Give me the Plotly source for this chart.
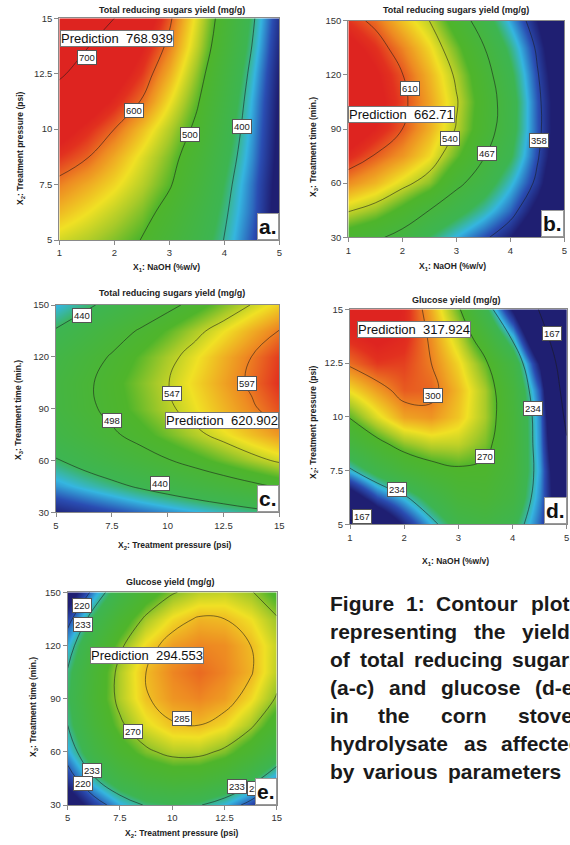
import plotly.graph_objects as go

# ---------------- data ----------------
NAOH = [1, 1.5, 2, 2.5, 3, 3.5, 4, 4.5, 5]                      # X1 (%w/v)
PRESSURE = [5, 6.25, 7.5, 8.75, 10, 11.25, 12.5, 13.75, 15]     # X2 (psi)
TIME = [30, 45, 60, 75, 90, 105, 120, 135, 150]                 # X3 (min.)

# (a) TRS yield, rows = pressure, cols = NaOH
TRS_A = [
    [541, 530, 516, 499, 468, 434, 399, 355, 302],
    [568, 552, 535, 515, 485, 446, 406, 362, 305],
    [592, 575, 556, 532, 504, 462, 414, 365, 308],
    [618, 602, 575, 545, 515, 475, 424, 372, 312],
    [645, 623, 600, 566, 531, 491, 435, 377, 315],
    [675, 651, 626, 598, 553, 505, 446, 382, 318],
    [707, 679, 648, 617, 574, 519, 457, 390, 322],
    [737, 703, 667, 633, 593, 534, 470, 400, 328],
    [767, 738, 700, 655, 606, 544, 479, 408, 335],
]
# (b) TRS yield, rows = time, cols = NaOH
TRS_B = [
    [490, 475, 452, 421, 392, 365, 335, 290, 225],
    [543, 527, 500, 467, 437, 407, 372, 322, 258],
    [592, 575, 550, 525, 477, 445, 400, 350, 278],
    [628, 608, 588, 560, 515, 470, 428, 362, 295],
    [655, 633, 610, 578, 538, 490, 440, 368, 302],
    [665, 644, 617, 583, 543, 494, 442, 367, 302],
    [660, 638, 611, 576, 535, 486, 432, 361, 296],
    [645, 624, 595, 561, 518, 470, 415, 352, 285],
    [622, 603, 570, 540, 493, 445, 390, 335, 268],
]
# (c) TRS yield, rows = time, cols = pressure
TRS_C = [
    [364, 374, 384, 394, 403, 412, 421, 430, 438],
    [406, 419, 431, 444, 456, 468, 479, 490, 501],
    [438, 453, 468, 482, 496, 510, 524, 538, 551],
    [460, 476, 493, 509, 525, 541, 556, 572, 587],
    [471, 489, 507, 524, 542, 559, 576, 593, 610],
    [472, 491, 510, 528, 546, 565, 583, 601, 620],
    [463, 482, 501, 520, 539, 558, 578, 597, 616],
    [443, 462, 482, 501, 520, 540, 559, 579, 598],
    [413, 432, 451, 470, 489, 508, 528, 548, 567],
]
# (d) glucose yield, rows = pressure, cols = NaOH
GLU_D = [
    [160, 190, 212, 230, 246, 250, 243, 222, 192],
    [200, 220, 232, 246, 258, 261, 252, 226, 188],
    [232, 246, 257, 264, 268, 267, 256, 228, 180],
    [254, 266, 276, 281, 281, 274, 258, 226, 170],
    [271, 284, 295, 297, 290, 278, 258, 225, 160],
    [287, 296, 304, 303, 292, 278, 256, 220, 150],
    [302, 308, 307, 300, 288, 272, 250, 208, 140],
    [311, 315, 311, 298, 281, 259, 231, 185, 128],
    [316, 318, 312, 294, 272, 244, 208, 165, 115],
]
# (e) glucose yield, rows = time, cols = pressure
GLU_E = [
    [197, 214, 226, 234, 236, 234, 227, 216, 200],
    [214, 232, 245, 253, 257, 256, 250, 239, 224],
    [226, 245, 259, 268, 273, 273, 268, 258, 244],
    [233, 253, 268, 278, 284, 285, 281, 272, 258],
    [236, 257, 273, 284, 290, 292, 289, 281, 269],
    [234, 256, 273, 285, 292, 295, 292, 286, 274],
    [227, 250, 268, 281, 289, 292, 291, 285, 275],
    [216, 239, 258, 272, 281, 286, 285, 280, 271],
    [199, 224, 244, 259, 269, 274, 275, 271, 262],
]

LEVELS_A = [400, 500, 600, 700]
LEVELS_B = [358, 467, 540, 610]
LEVELS_C = [440, 498, 547, 597]
LEVELS_D = [167, 234, 270, 300]
LEVELS_E = [220, 233, 270, 285]

PREDICTIONS = ["768.939", "662.71", "620.902", "317.924", "294.553"]
PANEL_LETTERS = ["a.", "b.", "c.", "d.", "e."]

TITLE_TRS = "Total reducing sugars yield (mg/g)"
TITLE_GLU = "Glucose yield (mg/g)"
AX_NAOH = "X<sub>1</sub>: NaOH (%w/v)"
AX_PRESS = "X<sub>2</sub>: Treatment pressure (psi)"
AX_TIME = "X<sub>3</sub>: Treatment time (min.)"

NAOH_TICKS = [1, 2, 3, 4, 5]
PRESS_TICKS = [5, 7.5, 10, 12.5, 15]
TIME_TICKS = [30, 60, 90, 120, 150]

CAPTION = [
    ["Figure", "1:", "Contour", "plots"],
    ["representing", "the", "yields"],
    ["of", "total", "reducing", "sugars"],
    ["(a-c)", "and", "glucose", "(d-e)"],
    ["in", "the", "corn", "stover"],
    ["hydrolysate", "as", "affected"],
    ["by", "various", "parameters"],
]

# ---------------- styling / layout ----------------
W, H = 570, 845
FONT = "Liberation Sans, Arial, sans-serif"
CS = [[0.0, '#1f1f72'], [0.1, '#2a4db2'], [0.2, '#35b6e0'], [0.3, '#3db552'],
      [0.58, '#4fb52b'], [0.66, '#a8ca29'], [0.74, '#f0e124'], [0.86, '#ee8b22'],
      [0.96, '#e2311f'], [1.0, '#de2420']]


def px(x, y):
    return x / W, 1 - y / H


panels = [
    dict(x=NAOH, y=PRESSURE, z=TRS_A, zr=(323, 632), lev=LEVELS_A,
         xt=NAOH_TICKS, yt=PRESS_TICKS, box=(59.3, 279.3, 18.3, 240),
         title=TITLE_TRS, tpos=(172, 10), xtitle=AX_NAOH, xtpos=(166, 268),
         ytitle=AX_PRESS, ytpos=(20, 148),
         labels=[(1.51, 13.24), (2.35, 10.86), (3.38, 9.74), (4.32, 10.11)],
         ltxt=["700", "600", "500", "400"],
         pred=(1.01, 14.09, 'left')),
    dict(x=NAOH, y=TIME, z=TRS_B, zr=(335, 635), lev=LEVELS_B,
         xt=NAOH_TICKS, yt=TIME_TICKS, box=(348.3, 564.3, 20.7, 237.3),
         title=TITLE_TRS, tpos=(456, 10), xtitle=AX_NAOH, xtpos=(452, 266),
         ytitle=AX_TIME, ytpos=(313, 147),
         labels=[(2.14, 112.5), (2.88, 84.8), (3.56, 76.5), (4.53, 83.9)],
         ltxt=["610", "540", "467", "358"],
         pred=(1.0, 97.8, 'left')),
    dict(x=PRESSURE, y=TIME, z=TRS_C, zr=(360, 630), lev=LEVELS_C,
         xt=PRESS_TICKS, yt=TIME_TICKS, box=(56, 279.3, 305, 512.3),
         title=TITLE_TRS, tpos=(172, 293), xtitle=AX_PRESS, xtpos=(175, 545),
         ytitle=AX_TIME, ytpos=(18, 410),
         labels=[(6.15, 144.2), (10.18, 98.9), (13.54, 104.7), (7.49, 83.4), (9.66, 46.8)],
         ltxt=["440", "547", "597", "498", "440"],
         pred=(14.97, 83.4, 'right')),
    dict(x=NAOH, y=PRESSURE, z=GLU_D, zr=(210, 313), lev=LEVELS_D,
         xt=NAOH_TICKS, yt=PRESS_TICKS, box=(350, 566.7, 309.3, 524.3),
         title=TITLE_GLU, tpos=(456, 300), xtitle=AX_NAOH, xtpos=(455, 561),
         ytitle=AX_PRESS, ytpos=(313, 422),
         labels=[(2.54, 11.01), (4.72, 13.88), (4.38, 10.4), (3.49, 8.14), (1.86, 6.63), (1.22, 5.35)],
         ltxt=["300", "167", "234", "270", "234", "167"],
         pred=(1.13, 14.06, 'left')),
    dict(x=PRESSURE, y=TIME, z=GLU_E, zr=(208, 305), lev=LEVELS_E,
         xt=PRESS_TICKS, yt=TIME_TICKS, box=(67.7, 276.7, 592.3, 805),
         title=TITLE_GLU, tpos=(170, 582), xtitle=AX_PRESS, xtpos=(182, 833),
         ytitle=AX_TIME, ytpos=(33, 707),
         labels=[(5.67, 142.3), (5.75, 131.6), (10.45, 78.9), (8.14, 71.4),
                 (6.15, 49.7), (5.75, 42.2), (13.09, 40.3), (14.04, 39.4)],
         ltxt=["220", "233", "285", "270", "233", "220", "233", "220"],
         pred=(6.07, 114.6, 'left')),
]

fig = go.Figure()
annotations = []
layout_axes = {}

for i, p in enumerate(panels):
    n = i + 1
    xa = 'x' if n == 1 else f'x{n}'
    ya = 'y' if n == 1 else f'y{n}'
    xkey = 'xaxis' if n == 1 else f'xaxis{n}'
    ykey = 'yaxis' if n == 1 else f'yaxis{n}'

    fig.add_trace(go.Heatmap(x=p['x'], y=p['y'], z=p['z'], zsmooth='best',
                             colorscale=CS, zmin=p['zr'][0], zmax=p['zr'][1],
                             showscale=False, hoverinfo='skip', xaxis=xa, yaxis=ya))
    for lev in p['lev']:
        fig.add_trace(go.Contour(x=p['x'], y=p['y'], z=p['z'], autocontour=False,
                                 contours=dict(start=lev, end=lev, size=1, coloring='none'),
                                 line=dict(color='rgba(25,25,25,0.55)', width=1, smoothing=1.2),
                                 showscale=False, hoverinfo='skip', xaxis=xa, yaxis=ya))

    x0, x1, y0, y1 = p['box']
    common = dict(showgrid=False, zeroline=False, ticks='outside', ticklen=4,
                  tickcolor='#8a8a8a', showline=True, linecolor='#8a8a8a', linewidth=1,
                  mirror=True, automargin=False, fixedrange=True,
                  tickfont=dict(family=FONT, size=9.5, color='#333'))
    layout_axes[xkey] = dict(domain=[x0 / W, x1 / W], range=[p['x'][0], p['x'][-1]],
                             anchor=ya, tickvals=p['xt'],
                             ticktext=[str(v) for v in p['xt']], **common)
    layout_axes[ykey] = dict(domain=[1 - y1 / H, 1 - y0 / H], range=[p['y'][0], p['y'][-1]],
                             anchor=xa, tickvals=p['yt'],
                             ticktext=[str(v) for v in p['yt']], **common)

    # titles
    tx, ty = px(*p['tpos'])
    annotations.append(dict(text=f"<b>{p['title']}</b>", x=tx, y=ty, xref='paper', yref='paper',
                            xanchor='center', yanchor='middle', showarrow=False,
                            font=dict(family=FONT, size=9, color='#222')))
    tx, ty = px(*p['xtpos'])
    annotations.append(dict(text=f"<b>{p['xtitle']}</b>", x=tx, y=ty, xref='paper', yref='paper',
                            xanchor='center', yanchor='middle', showarrow=False,
                            font=dict(family=FONT, size=8.5, color='#222')))
    tx, ty = px(*p['ytpos'])
    annotations.append(dict(text=f"<b>{p['ytitle']}</b>", x=tx, y=ty, xref='paper', yref='paper',
                            xanchor='center', yanchor='middle', showarrow=False, textangle=-90,
                            font=dict(family=FONT, size=8.5, color='#222')))

    # contour labels
    for (lx, ly), t in zip(p['labels'], p['ltxt']):
        annotations.append(dict(text=t, x=lx, y=ly, xref=xa, yref=ya, showarrow=False,
                                xanchor='center', yanchor='middle',
                                bgcolor='white', bordercolor='#555', borderwidth=1, borderpad=1,
                                font=dict(family=FONT, size=9.5, color='#222')))

    # prediction flag
    pxv, pyv, anc = p['pred']
    annotations.append(dict(text="Prediction\u00a0\u00a0" + PREDICTIONS[i], x=pxv, y=pyv,
                            xref=xa, yref=ya, xanchor=anc, yanchor='middle', showarrow=False,
                            bgcolor='white', bordercolor='#777', borderwidth=1, borderpad=0,
                            font=dict(family=FONT, size=13, color='#111')))

    # panel letter
    annotations.append(dict(text=f"<b>{PANEL_LETTERS[i]}</b>", x=1, y=0,
                            xref=f'{xa} domain', yref=f'{ya} domain',
                            xanchor='right', yanchor='bottom', showarrow=False,
                            bgcolor='white', bordercolor='#999', borderwidth=1, borderpad=1,
                            font=dict(family=FONT, size=21, color='#111')))

# caption (justified words)
CAPTION_X = [
    [329, 404.9, 435.3, 529.8],
    [329, 472.6, 520.5],
    [329, 358.6, 412.7, 511.2],
    [329, 388.1, 440.2, 534.4],
    [329, 377, 440, 517],
    [329, 463, 500],
    [329, 362, 447],
]
for li, (words, xs) in enumerate(zip(CAPTION, CAPTION_X)):
    yline = 603 + 28.1 * li
    for w, xw in zip(words, xs):
        ax, ay = px(xw, yline)
        annotations.append(dict(text=f"<b>{w}</b>", x=ax, y=ay, xref='paper', yref='paper',
                                xanchor='left', yanchor='middle', showarrow=False,
                                borderpad=0, font=dict(family=FONT, size=21, color='#1a1a1a')))

fig.update_layout(width=W, height=H, margin=dict(l=0, r=0, t=0, b=0, autoexpand=False),
                  paper_bgcolor='white', plot_bgcolor='white', showlegend=False,
                  hovermode=False, dragmode=False,
                  font=dict(family=FONT), annotations=annotations, **layout_axes)

fig.write_html("out.html", config={'displayModeBar': False, 'staticPlot': True})

# remove the default page margin so the figure sits at the window origin
with open("out.html", "r", encoding="utf-8") as fh:
    html = fh.read()
html = html.replace("<head>", "<head><style>html,body{margin:0;padding:0;overflow:hidden;}</style>", 1)
with open("out.html", "w", encoding="utf-8") as fh:
    fh.write(html)
